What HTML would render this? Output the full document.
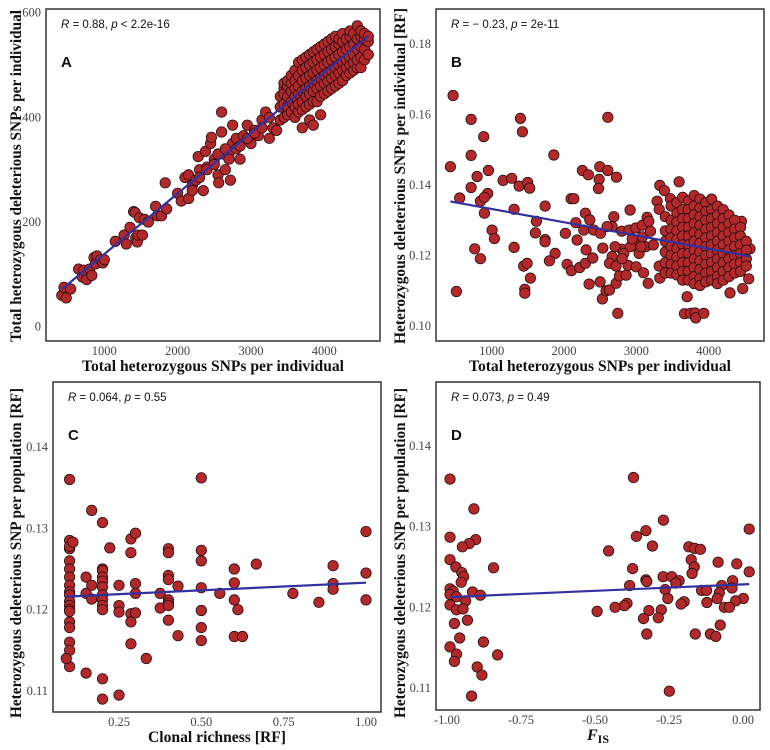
<!DOCTYPE html>
<html><head><meta charset="utf-8">
<style>
html,body{margin:0;padding:0;background:#fff;}
svg{display:block;}
.tick{font-family:"Liberation Serif",serif;font-size:12.5px;fill:#444;}
.ttl{font-family:"Liberation Serif",serif;font-size:16px;font-weight:bold;fill:#111;}
.ann{font-family:"Liberation Sans",sans-serif;font-size:11.5px;fill:#111;}
.lett{font-family:"Liberation Sans",sans-serif;font-size:15px;font-weight:bold;fill:#111;}
</style></head>
<body>
<svg id="fig" width="770" height="750" viewBox="0 0 770 750" xmlns="http://www.w3.org/2000/svg"></svg>
<script>
// ---------- Panel A data ----------
const aTicksX=[1000,2000,3000,4000];
const aTicksY=[0,200,400,600];
const aX=[420,450,480,540,650,700,720,760,800,830,860,880,900,950,980,1000,1150,1270,1300,1350,1400,1420,1430,1450,1460,1480,1520,1550,1600,1700,1720,1780,1850,1830,2000,2050,2100,2150,2150,2200,2250,2280,2300,2350,2380,2400,2450,2460,2500,2550,2560,2600,2600,2620,2650,2700,2720,2750,2750,2800,2850,2900,2950,3000,3050,3100,3150,3200,3250,3300,3350,3400,3450,2200,2300,2400,2500,2550,2650,2700,2800,2850,2950,3050,3150,3250,
3400,3400,3400,3450,3450,3450,3450,3500,3500,3500,3500,3500,3550,3550,3550,3550,3550,3600,3600,3600,3600,3600,3600,3650,3650,3650,3650,3650,3650,3700,3700,3700,3700,3700,3700,3700,3750,3750,3750,3750,3750,3750,3800,3800,3800,3800,3800,3800,3800,3850,3850,3850,3850,3850,3850,3850,3900,3900,3900,3900,3900,3900,3950,3950,3950,3950,3950,3950,3950,4000,4000,4000,4000,4000,4000,4050,4050,4050,4050,4050,4050,4100,4100,4100,4100,4100,4100,4150,4150,4150,4150,4150,4150,4200,4200,4200,4200,4200,4200,4250,4250,4250,4250,4250,4250,4300,4300,4300,4300,4300,4350,4350,4350,4350,4350,4350,4400,4400,4400,4400,4400,4450,4450,4450,4450,4450,4500,4500,4500,4500,4500,4550,4550,4550,4550,4600,4600,4600];
const aY=[60,75,55,72,110,95,108,90,110,98,132,120,135,128,122,128,163,175,158,190,220,218,170,162,175,208,175,205,200,230,212,212,225,275,255,240,285,245,290,270,280,325,300,260,335,305,350,362,320,290,275,372,410,330,300,330,280,350,385,360,320,365,385,350,375,365,395,410,360,380,375,420,455,260,285,300,310,330,340,320,340,345,360,370,380,400,
395,420,440,400,425,445,465,405,420,440,460,470,410,430,450,465,480,400,420,440,455,470,490,410,425,445,460,480,505,380,415,430,450,470,490,510,420,440,455,475,495,515,395,425,445,460,480,500,520,385,430,450,465,485,505,525,430,455,470,490,510,530,405,440,460,475,495,515,535,445,465,480,500,520,540,450,470,485,505,525,545,455,475,490,510,530,550,460,480,495,515,535,555,465,485,500,520,540,550,470,490,505,525,545,560,480,495,510,530,550,485,500,515,535,555,565,490,505,520,540,560,495,510,530,550,575,495,515,535,555,565,510,530,550,560,520,545,555];

// ---------- Panel B data ----------
const bTicksX=[1000,2000,3000,4000];
const bTicksY=[0.10,0.12,0.14,0.16,0.18];
const bX=[466,429,715,715,890,954,798,715,557,844,945,899,899,1005,1037,765,844,512,1397,1425,1157,1277,1379,1498,1526,1310,1310,1618,1604,1738,1738,1738,1858,1877,1798,1443,1490,1535,1457,1457,2098,2135,2019,2163,2254,2337,2494,2485,2476,2605,2725,2605,2743,2914,2531,2346,2042,2102,2217,2296,2397,2305,2536,2499,2582,2628,2720,2766,2858,2886,2997,3098,3163,2181,2296,2356,2273,2411,2504,2688,2665,2596,2798,2900,2992,3084,3149,3172,2992,3084,3130,2798,2706,2665,2826,2918,3038,2628,2720,2803,2942,3195,3066,3236,3324,3388,3471,3591,3287,3315,3315,3324,3702,3665,3748,3812,3822,3932,4470,4295,4553,4452,4571,
3400,3400,3400,3400,3400,3400,3480,3480,3480,3480,3480,3480,3480,3480,3560,3560,3560,3560,3560,3560,3560,3560,3560,3640,3640,3640,3640,3640,3640,3640,3640,3640,3640,3720,3720,3720,3720,3720,3720,3720,3720,3720,3720,3800,3800,3800,3800,3800,3800,3800,3800,3800,3800,3800,3880,3880,3880,3880,3880,3880,3880,3880,3880,3880,3880,3960,3960,3960,3960,3960,3960,3960,3960,3960,3960,4040,4040,4040,4040,4040,4040,4040,4040,4040,4040,4120,4120,4120,4120,4120,4120,4120,4120,4120,4120,4200,4200,4200,4200,4200,4200,4200,4200,4200,4280,4280,4280,4280,4280,4280,4280,4280,4360,4360,4360,4360,4360,4360,4360,4440,4440,4440,4440,4440,4440,4520,4520,4520,4520];
const bY=[0.1654,0.1452,0.1586,0.1484,0.1537,0.1441,0.1424,0.1393,0.1363,0.1354,0.1376,0.1365,0.1320,0.1272,0.1248,0.1219,0.1191,0.1098,0.1589,0.1551,0.1413,0.1419,0.1397,0.1407,0.1391,0.1331,0.1223,0.1297,0.1264,0.1340,0.1245,0.1239,0.1485,0.1206,0.1185,0.1170,0.1178,0.1136,0.1104,0.1093,0.1361,0.1361,0.1263,0.1293,0.1441,0.1429,0.1452,0.1416,0.1390,0.1441,0.1422,0.1592,0.1036,0.1329,0.1077,0.1119,0.1175,0.1157,0.1166,0.1178,0.1193,0.1216,0.1221,0.1125,0.1100,0.1102,0.1121,0.1142,0.1144,0.1172,0.1168,0.1151,0.1121,0.1244,0.1320,0.1301,0.1272,0.1272,0.1263,0.1310,0.1282,0.1282,0.1269,0.1272,0.1278,0.1286,0.1308,0.1297,0.1244,0.1253,0.1225,0.1218,0.1225,0.1197,0.1206,0.1225,0.1206,0.1178,0.1170,0.1191,0.1247,0.1269,0.1225,0.1230,0.1399,0.1384,0.1361,0.1409,0.1354,0.1331,0.1170,0.1136,0.1083,0.1035,0.1036,0.1037,0.1023,0.1036,0.1106,0.1094,0.1134,0.1297,0.1219,
0.131,0.127,0.124,0.121,0.118,0.115,0.134,0.130,0.1275,0.125,0.1225,0.120,0.1175,0.115,0.135,0.132,0.1295,0.127,0.1245,0.122,0.1195,0.117,0.1145,0.1365,0.133,0.1305,0.128,0.1255,0.123,0.1205,0.118,0.1155,0.113,0.1355,0.133,0.1305,0.128,0.1255,0.123,0.1205,0.118,0.1155,0.113,0.137,0.134,0.1315,0.129,0.1265,0.124,0.1215,0.119,0.1165,0.114,0.112,0.136,0.1335,0.131,0.1285,0.126,0.1235,0.121,0.1185,0.116,0.1135,0.1115,0.135,0.1325,0.130,0.1275,0.125,0.1225,0.120,0.1175,0.115,0.1125,0.136,0.133,0.1305,0.128,0.1255,0.123,0.1205,0.118,0.1155,0.113,0.134,0.1315,0.129,0.1265,0.124,0.1215,0.119,0.1165,0.114,0.112,0.133,0.1305,0.128,0.1255,0.123,0.1205,0.118,0.1155,0.113,0.1315,0.129,0.1265,0.124,0.1215,0.119,0.1165,0.114,0.130,0.1275,0.125,0.1225,0.120,0.1175,0.115,0.128,0.1255,0.123,0.1205,0.118,0.1155,0.124,0.1215,0.119,0.117];

// ---------- Panel C data ----------
const cTicksX=[0.25,0.50,0.75,1.00];
const cTicksY=[0.11,0.12,0.13,0.14];
const cX=[0.1,0.1,0.1,0.1,0.1,0.1,0.1,0.1,0.1,0.1,0.1,0.1,0.1,0.1,0.1,0.1,0.1,0.1,0.1,0.09,0.11,0.15,0.15,0.15,0.167,0.167,0.167,0.2,0.2,0.2,0.2,0.2,0.2,0.2,0.2,0.2,0.2,0.2,0.2,0.222,0.25,0.25,0.25,0.25,0.286,0.286,0.286,0.286,0.286,0.3,0.3,0.3,0.3,0.333,0.375,0.375,0.4,0.4,0.4,0.4,0.4,0.4,0.4,0.4,0.429,0.429,0.5,0.5,0.5,0.5,0.5,0.5,0.5,0.556,0.6,0.6,0.6,0.6,0.611,0.625,0.667,0.778,0.857,0.9,0.9,0.9,1.0,1.0,1.0];
const cY=[0.136,0.1285,0.1275,0.1278,0.126,0.125,0.124,0.123,0.1222,0.1218,0.121,0.1205,0.120,0.1198,0.1185,0.1178,0.116,0.115,0.113,0.114,0.1283,0.124,0.122,0.1122,0.1322,0.123,0.1213,0.1307,0.125,0.1248,0.124,0.1235,0.1228,0.1218,0.1212,0.1205,0.120,0.1115,0.109,0.1276,0.123,0.1205,0.1197,0.1095,0.1287,0.127,0.1195,0.1185,0.1158,0.1294,0.1232,0.122,0.1196,0.114,0.122,0.1202,0.1275,0.127,0.1242,0.1237,0.1212,0.1208,0.1205,0.1187,0.1229,0.1168,0.1362,0.1273,0.126,0.1227,0.1199,0.1178,0.1162,0.122,0.125,0.1233,0.1212,0.1167,0.1200,0.1167,0.1256,0.122,0.1209,0.1254,0.1232,0.1225,0.1296,0.1245,0.1212];

// ---------- Panel D data ----------
const dTicksX=[-1.00,-0.75,-0.50,-0.25,0.00];
const dTicksY=[0.11,0.12,0.13,0.14];
const dX=[-0.99,-0.909,-0.99,-0.903,-0.925,-0.948,-0.99,-0.97,-0.95,-0.944,-0.952,-0.99,-0.979,-0.99,-0.968,-0.914,-0.887,-0.937,-0.99,-0.968,-0.946,-0.931,-0.975,-0.957,-0.99,-0.968,-0.975,-0.877,-0.843,-0.829,-0.898,-0.882,-0.917,-0.370,-0.269,0.021,-0.328,-0.360,-0.306,-0.454,-0.183,-0.164,-0.144,-0.175,-0.084,-0.021,-0.165,-0.373,-0.172,0.021,-0.270,-0.241,-0.328,-0.216,-0.035,-0.325,-0.227,-0.383,-0.072,-0.037,-0.263,-0.140,-0.123,-0.080,-0.254,-0.087,0.001,-0.199,-0.122,-0.025,-0.209,-0.392,-0.401,-0.432,-0.063,-0.046,-0.493,-0.318,-0.276,-0.336,-0.286,-0.077,-0.325,-0.161,-0.110,-0.092,-0.249];
const dY=[0.1359,0.1322,0.1287,0.1284,0.1279,0.1275,0.1259,0.1250,0.1243,0.1238,0.1231,0.1223,0.1220,0.1216,0.1213,0.1219,0.1215,0.1208,0.1203,0.1197,0.1198,0.1184,0.1180,0.1162,0.1151,0.1142,0.1133,0.1157,0.1249,0.1141,0.1126,0.1116,0.1090,0.1361,0.1308,0.1297,0.1295,0.1288,0.1276,0.1270,0.1275,0.1273,0.1272,0.1259,0.1256,0.1254,0.1250,0.1248,0.1242,0.1244,0.1238,0.1238,0.1234,0.1233,0.1233,0.1232,0.1230,0.1227,0.1227,0.1224,0.1222,0.1221,0.1221,0.1218,0.1211,0.1211,0.1211,0.1207,0.1206,0.1208,0.1204,0.1205,0.1202,0.1200,0.1200,0.1200,0.1195,0.1196,0.1197,0.1186,0.1187,0.1178,0.1167,0.1167,0.1167,0.1164,0.1096];

const NS='http://www.w3.org/2000/svg';
const svg=document.getElementById('fig');
function mk(tag,attrs,parent){const e=document.createElementNS(NS,tag);for(const k in attrs)e.setAttribute(k,attrs[k]);(parent||svg).appendChild(e);return e;}
function lin(d0,d1,r0,r1){return v=>r0+(v-d0)*(r1-r0)/(d1-d0);}
function fit(xs,ys){const n=xs.length;let mx=0,my=0;for(let i=0;i<n;i++){mx+=xs[i];my+=ys[i];}mx/=n;my/=n;let sxy=0,sxx=0;for(let i=0;i<n;i++){sxy+=(xs[i]-mx)*(ys[i]-my);sxx+=(xs[i]-mx)**2;}const b=sxy/sxx;return [b,my-b*mx];}

function panel(p){
  const g=mk('g',{});
  
  
  const box=mk('rect',{x:p.L,y:p.T,width:p.R-p.L,height:p.B-p.T,fill:'none',stroke:'#333','stroke-width':1.5},g);
  
  
  p.tx.forEach(t=>{const x=p.sx(t);
    const e=mk('text',{x:x,y:p.B+14,'text-anchor':'middle',class:'tick'},g);e.textContent=p.fx(t);
    
    });
  p.ty.forEach(t=>{const y=p.sy(t);
    const e=mk('text',{x:p.L-5,y:y+4,'text-anchor':'end',class:'tick'},g);e.textContent=p.fy(t);
    
    });
  const pts=mk('g',{},g);
  
  
  for(let i=0;i<p.xs.length;i++){
    const c=mk('circle',{cx:p.sx(p.xs[i]).toFixed(1),cy:p.sy(p.ys[i]).toFixed(1),r:5.2,fill:'#B2282B',stroke:'#2a1010','stroke-width':0.8},pts);
    
    
  }
  const [b,a]=fit(p.xs,p.ys);
  const x0=Math.min(...p.xs),x1=Math.max(...p.xs);
  const ln=mk('line',{x1:p.sx(x0),y1:p.sy(a+b*x0),x2:p.sx(x1),y2:p.sy(a+b*x1),stroke:'#3330A0','stroke-width':2.2},g);
  
  
  const an=mk('text',{x:p.L+15,y:p.T+19,class:'ann'},g);
  an.innerHTML=p.ann;
  
  
  const le=mk('text',{x:p.L+15,y:p.T+58,class:'lett'},g);le.textContent=p.letter;
  
  
  const xa={x:(p.L+p.R)/2,y:p.B+30,'text-anchor':'middle',class:'ttl'};
  if(p.xlen){xa.textLength=p.xlen;xa.lengthAdjust='spacingAndGlyphs';}
  const xt=mk('text',xa,g);xt.innerHTML=p.xtitle;
  
  
  const yc=p.yc;
  const yt=mk('text',{x:p.ytx,y:yc,'text-anchor':'middle',class:'ttl',textLength:p.ylen,lengthAdjust:'spacingAndGlyphs',transform:`rotate(-90 ${p.ytx} ${yc})`},g);yt.textContent=p.ytitle;
  
  
}
const fi=v=>String(v);
const f2=v=>v.toFixed(2);
panel({name:'panel-a',L:46,R:380,T:9,B:341,sx:lin(1000,4000,104.3,324.3),sy:lin(0,600,326.7,12.7),tx:aTicksX,ty:aTicksY,fx:fi,fy:fi,xs:aX,ys:aY,
  ann:'<tspan font-style="italic">R</tspan> = 0.88, <tspan font-style="italic">p</tspan> &lt; 2.2e-16',letter:'A',xtitle:'Total heterozygous SNPs per individual',xlen:262,ytitle:'Total heterozygous deleterious SNPs per individual',ytx:21,yc:176,ylen:332});
panel({name:'panel-b',L:436,R:764,T:9,B:341,sx:lin(1000,4000,491.7,708.7),sy:lin(0.10,0.18,326,44),tx:bTicksX,ty:bTicksY,fx:fi,fy:f2,xs:bX,ys:bY,
  ann:'<tspan font-style="italic">R</tspan> = − 0.23, <tspan font-style="italic">p</tspan> = 2e-11',letter:'B',xtitle:'Total heterozygous SNPs per individual',xlen:262,ytitle:'Heterozygous deleterious SNPs per individual [RF]',ytx:405,yc:176,ylen:336});
panel({name:'panel-c',L:53,R:381,T:382,B:712,sx:lin(0.25,1.0,119,366),sy:lin(0.11,0.14,691,447),tx:cTicksX,ty:cTicksY,fx:f2,fy:f2,xs:cX,ys:cY,
  ann:'<tspan font-style="italic">R</tspan> = 0.064, <tspan font-style="italic">p</tspan> = 0.55',letter:'C',xtitle:'Clonal richness [RF]',xlen:138,ytitle:'Heterozygous deleterious SNP per population [RF]',ytx:21,yc:553,ylen:330});
panel({name:'panel-d',L:436,R:760,T:382,B:710,sx:lin(-1,0,447,743),sy:lin(0.11,0.14,688,446),tx:dTicksX,ty:dTicksY,fx:f2,fy:f2,xs:dX,ys:dY,
  ann:'<tspan font-style="italic">R</tspan> = 0.073, <tspan font-style="italic">p</tspan> = 0.49',letter:'D',xtitle:'<tspan font-style="italic">F</tspan><tspan font-size="12" dy="3">IS</tspan>',ytitle:'Heterozygous deleterious SNP per population [RF]',ytx:405,yc:553,ylen:330});
</script>
</body></html>
